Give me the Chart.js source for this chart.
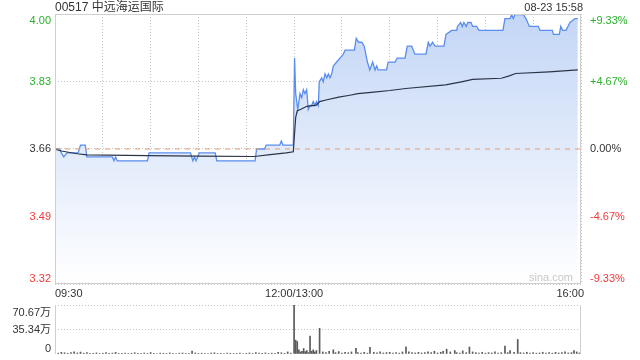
<!DOCTYPE html>
<html>
<head>
<meta charset="utf-8">
<script src="https://cdn.jsdelivr.net/npm/chart.js@4.4.0/dist/chart.umd.min.js"></script>
<style>
html, body { margin: 0; padding: 0; background: #fff; }
#wrap { position: relative; width: 640px; height: 360px; }
#priceBox { position: absolute; left: 0; top: 0; width: 640px; height: 300px; }
#volBox { position: absolute; left: 0; top: 300px; width: 640px; height: 60px; }
</style>
</head>
<body>
<div id="wrap">
    <div id="priceBox"><canvas id="priceChart"></canvas></div>
    <div id="volBox"><canvas id="volChart"></canvas></div>
</div>
<script>
// Header
const stockTitle = '00517 中远海运国际';
const stampText = '08-23 15:58';

// Price (minutes since 09:30, lunch break skipped)
const prevClose = 3.66;
const priceTimes = [
    0, 3, 4, 5.5, 7.5, 14.5, 16, 19, 20, 36, 37, 38, 39, 58, 59, 85, 86.5, 87.5, 88.5, 89.5,
    90.5, 100.5, 101.5, 125.5, 126.5, 131.5, 132.5, 141, 142, 143, 149.5,
    150.3, 151, 152.3, 153.7, 154.8, 155.8, 156.8, 157.9, 158.9, 160, 161, 162, 163, 164, 165.2,
    165.8, 167.3, 168.3, 169.4, 170.5, 171.5, 172.5, 173.6, 174.6, 176.7, 178.8, 180.9, 182, 187.8,
    189, 190.5, 192.5, 194, 195, 196, 197.5, 199.3, 200.8, 201.8, 202.8, 208, 209, 213.3, 214.7,
    219.6, 221, 223.8, 225.8, 232.7, 234.2, 235.3, 236.9, 238.4, 244, 245.3, 248.9, 252, 252.5,
    254.5, 255.5, 256.5, 258, 259, 261, 262, 264.5, 266, 281, 282.3, 285.5, 286.5, 287.5, 288.6,
    293.8, 295.5, 297.6, 303.2, 304.3, 312, 312.7, 316.4, 317.3, 318.5, 320.6, 323.1, 326.2, 328
];
const priceValues = [
    3.66, 3.66, 3.65, 3.64, 3.65, 3.65, 3.67, 3.67, 3.64, 3.64, 3.63, 3.64, 3.63, 3.63, 3.65, 3.65, 3.63, 3.64, 3.63, 3.64,
    3.65, 3.65, 3.63, 3.63, 3.66, 3.66, 3.67, 3.67, 3.68, 3.67, 3.67,
    3.89, 3.80, 3.76, 3.80, 3.79, 3.81, 3.80, 3.81, 3.76, 3.77, 3.77, 3.78, 3.77, 3.78, 3.77,
    3.83, 3.84, 3.83, 3.85, 3.84, 3.85, 3.84, 3.85, 3.87, 3.88, 3.89, 3.90, 3.91, 3.91,
    3.94, 3.93, 3.93, 3.92, 3.90, 3.88, 3.86, 3.88, 3.86, 3.87, 3.86, 3.86, 3.88, 3.88, 3.89,
    3.89, 3.92, 3.92, 3.90, 3.90, 3.93, 3.92, 3.93, 3.92, 3.92, 3.95, 3.96, 3.96, 3.97,
    3.98, 3.97, 3.98, 3.97, 3.98, 3.98, 3.97, 3.97, 3.96, 3.96, 3.99, 3.99, 4.00, 3.99, 4.00,
    4.00, 3.99, 3.97, 3.97, 3.96, 3.96, 3.95, 3.95, 3.97, 3.96, 3.96, 3.98, 3.99, 3.99
];

// Average price
const avgTimes = [0, 4, 14, 20, 58, 90, 125, 135, 145, 149.5, 150.3, 151, 152, 154, 158, 164, 166, 170,
    178, 185, 190, 200, 210, 220, 245, 255, 262, 280, 285, 289, 310, 328];
const avgValues = [3.660, 3.655, 3.648, 3.645, 3.643, 3.642, 3.641, 3.646, 3.650, 3.653, 3.700, 3.740, 3.757, 3.760,
    3.768, 3.771, 3.780, 3.784, 3.791, 3.796, 3.800, 3.804, 3.808, 3.813, 3.822, 3.830, 3.836, 3.839, 3.845, 3.851,
    3.855, 3.860];

// Volume (万股)
const volTimes = [
    0, 2, 4, 6, 8, 10, 12, 14, 16, 18, 20, 22, 24, 26, 28, 30, 32, 34, 36, 38, 40, 42, 44, 46, 48,
    50, 52, 54, 56, 58, 60, 62, 64, 66, 68, 70, 72, 74, 76, 78, 80, 82, 84, 86, 88, 90, 92, 94, 96, 98,
    100, 102, 104, 106, 108, 110, 112, 114, 116, 118, 120, 122, 124, 126, 128, 130, 132, 134, 136, 138,
    140, 142, 144, 146, 148,
    150, 151, 152, 153, 154, 155, 156, 157, 158, 159, 160, 161, 162, 163, 164, 166, 168, 170, 172, 174.6,
    176, 178, 180, 182, 184, 186, 188.8, 190, 192, 194, 196, 197.6, 200, 202, 204, 206, 208, 210, 212,
    214, 216, 218, 220.2, 222, 224, 226, 228, 230, 232, 234, 236, 238, 240, 242, 243.5, 245.7, 248, 250.8,
    252, 254, 255.8, 258, 260, 262, 264, 266, 268, 270, 272, 274, 276, 278, 280, 282.3, 284, 285.5, 288,
    290.3, 292, 294, 296, 298, 300, 302, 304, 306, 308, 310, 312, 314, 316, 318, 320, 322, 324, 325.6,
    327.3, 329
];
const volValues = [
    3.5, 1.2, 2.5, 1.8, 1.0, 2.0, 3.0, 1.5, 2.8, 1.2, 2.2, 0.8, 1.0, 1.6, 0.7, 1.1, 2.0, 0.9, 1.3, 2.4, 0.8,
    1.0, 1.5, 0.7, 1.2, 1.8, 0.9, 1.0, 1.4, 0.8, 2.1, 1.0, 0.7, 1.3, 1.1, 0.8, 1.6, 1.0, 0.7, 1.2, 1.5, 0.8,
    1.0, 4.3, 1.5, 0.9, 1.2, 1.0, 0.7, 1.4, 1.8, 0.8, 1.0, 0.7, 1.2, 1.1, 0.8, 1.0, 1.3, 0.7, 1.0, 1.5, 0.8,
    2.0, 1.2, 1.0, 1.6, 0.8, 1.2, 0.9, 2.5, 1.8, 1.0, 3.0, 1.5,
    70.67, 20.0, 18.0, 6.0, 3.0, 4.0, 8.0, 3.5, 5.0, 2.0, 26.0, 4.0, 6.0, 3.0, 5.0, 37.0, 3.0, 2.0, 4.0, 6.0,
    2.0, 3.5, 1.5, 2.5, 1.8, 3.0, 8.0, 2.0, 1.5, 2.5, 1.2, 9.6, 2.5, 1.8, 3.0, 1.5, 2.0, 2.5, 1.5,
    2.0, 1.2, 3.0, 10.5, 3.0, 2.0, 1.5, 2.5, 1.5, 2.0, 3.0, 2.0, 4.0, 1.5, 2.5, 4.0, 7.0, 3.0, 5.0,
    2.0, 1.5, 4.5, 2.0, 10.0, 3.0, 2.0, 1.5, 2.5, 1.2, 2.0, 1.5, 3.0, 1.5, 2.0, 11.5, 2.0, 5.0, 2.5,
    21.0, 2.0, 1.5, 2.5, 1.5, 2.0, 1.2, 1.5, 2.5, 1.5, 2.0, 1.2, 2.5, 1.5, 2.0, 3.0, 1.5, 2.0, 5.0,
    3.0, 1.5
];

// Axis labels
const gridMinutes = [0, 30, 60, 90, 120, 150, 180, 210, 240, 270, 300, 330];
const timeTickValues = [0, 150, 330];
const timeTickLabels = ['09:30', '12:00/13:00', '16:00'];
const priceTickLabels = ['3.32', '3.49', '3.66', '3.83', '4.00'];
const pctTickLabels = ['-9.33%', '-4.67%', '0.00%', '+4.67%', '+9.33%'];
const volTickValues = [0, 35.335, 70.67];
const volTickLabels = ['0', '35.34万', '70.67万'];

const limitPct = 0.0933;
const priceMin = prevClose * (1 - limitPct);
const priceMax = prevClose * (1 + limitPct);
const priceTickValues = [priceMin, (priceMin + prevClose) / 2, prevClose, (priceMax + prevClose) / 2, priceMax];

const FONT = 'Arial, "Liberation Sans", "Noto Sans CJK SC", sans-serif';
const GREEN = '#2ab02a';
const RED = '#f23a3a';
const TEXT = '#333';
const GRID = '#c4c4c4';
const BORDER = '#cfcfcf';

function tickColor(i) {
    if (i < 2) return RED;
    if (i > 2) return GREEN;
    return TEXT;
}

function pts(xs, ys) {
    return xs.map((x, i) => ({ x: x, y: ys[i] }));
}

// Frame + labels for the price panel
const priceDecor = {
    id: 'priceDecor',
    afterDraw(chart) {
        const { ctx, chartArea: a, scales } = chart;
        ctx.save();
        ctx.strokeStyle = BORDER;
        ctx.lineWidth = 1;
        ctx.strokeRect(Math.round(a.left) + 0.5, Math.round(a.top) + 0.5,
            Math.round(a.right - a.left) - 1, Math.round(a.bottom - a.top) - 1);

        ctx.font = '11px ' + FONT;
        priceTickValues.forEach((v, i) => {
            const py = scales.y.getPixelForValue(v);
            ctx.textBaseline = i === 0 ? 'bottom' : (i === priceTickValues.length - 1 ? 'top' : 'middle');
            const off = i === 0 ? 0 : (i === priceTickValues.length - 1 ? 1 : 0);
            ctx.fillStyle = tickColor(i);
            ctx.textAlign = 'right';
            ctx.fillText(priceTickLabels[i], a.left - 4, py + off);
            ctx.textAlign = 'left';
            ctx.fillText(pctTickLabels[i], a.right + 9, py + off);
        });

        ctx.fillStyle = TEXT;
        ctx.textBaseline = 'middle';
        timeTickValues.forEach((v, i) => {
            const px = scales.x.getPixelForValue(v);
            ctx.textAlign = i === 0 ? 'left' : (i === timeTickValues.length - 1 ? 'right' : 'center');
            ctx.fillText(timeTickLabels[i], px + (i === timeTickValues.length - 1 ? 3 : 0), a.bottom + 10);
        });

        ctx.font = '12px ' + FONT;
        ctx.textAlign = 'left';
        ctx.fillText(stockTitle, a.left, 8);
        ctx.font = '11px ' + FONT;
        ctx.textAlign = 'right';
        ctx.fillText(stampText, a.right + 2, 8);

        ctx.fillStyle = '#c8c8c8';
        ctx.textBaseline = 'bottom';
        ctx.fillText('sina.com', a.right - 8, a.bottom - 1);
        ctx.restore();
    }
};

new Chart(document.getElementById('priceChart'), {
    type: 'line',
    data: {
        datasets: [
            {
                label: 'prev',
                data: pts([0, 330], [prevClose, prevClose]),
                borderColor: '#ec9a6c',
                borderWidth: 1,
                borderDash: [5, 5],
                pointRadius: 0,
                order: 0
            },
            {
                label: 'avg',
                data: pts(avgTimes, avgValues),
                borderColor: '#2b3447',
                borderWidth: 1.2,
                pointRadius: 0,
                order: 1
            },
            {
                label: 'price',
                data: pts(priceTimes, priceValues),
                borderColor: '#5b8def',
                borderWidth: 1.3,
                pointRadius: 0,
                fill: 'start',
                backgroundColor: (c) => {
                    const a = c.chart.chartArea;
                    if (!a) return 'rgba(200,215,245,0.5)';
                    const g = c.chart.ctx.createLinearGradient(0, a.top, 0, a.bottom);
                    g.addColorStop(0, '#c3d6f6');
                    g.addColorStop(1, '#ffffff');
                    return g;
                },
                order: 2
            }
        ]
    },
    options: {
        responsive: true,
        maintainAspectRatio: false,
        animation: false,
        events: [],
        layout: { padding: { top: 14, left: 0, right: 0, bottom: 0 } },
        elements: { line: { tension: 0 } },
        plugins: { legend: { display: false }, tooltip: { enabled: false } },
        scales: {
            x: {
                type: 'linear',
                min: 0,
                max: 330,
                afterBuildTicks: s => { s.ticks = gridMinutes.map(v => ({ value: v })); },
                afterFit: s => { s.height = 16; },
                ticks: { display: false },
                grid: { color: GRID, drawTicks: false },
                border: { display: false, dash: [1, 2] }
            },
            y: {
                position: 'left',
                min: priceMin,
                max: priceMax,
                afterBuildTicks: s => { s.ticks = priceTickValues.map(v => ({ value: v })); },
                afterFit: s => { s.width = 55; },
                ticks: { display: false },
                grid: { color: GRID, drawTicks: false },
                border: { display: false, dash: [1, 2] }
            },
            y2: {
                position: 'right',
                min: priceMin,
                max: priceMax,
                afterFit: s => { s.width = 59; },
                ticks: { display: false },
                grid: { display: false, drawTicks: false },
                border: { display: false }
            }
        }
    },
    plugins: [priceDecor]
});

// Volume panel
const volDecor = {
    id: 'volDecor',
    afterDraw(chart) {
        const { ctx, chartArea: a, scales } = chart;
        ctx.save();
        ctx.strokeStyle = BORDER;
        ctx.lineWidth = 1;
        ctx.beginPath();
        ctx.moveTo(Math.round(a.left) + 0.5, a.top);
        ctx.lineTo(Math.round(a.left) + 0.5, a.bottom);
        ctx.moveTo(Math.round(a.right) - 0.5, a.top);
        ctx.lineTo(Math.round(a.right) - 0.5, a.bottom);
        ctx.stroke();

        ctx.font = '11px ' + FONT;
        ctx.fillStyle = TEXT;
        ctx.textAlign = 'right';
        volTickValues.forEach((v, i) => {
            const py = scales.y.getPixelForValue(v);
            let yy = py;
            if (i === 0) yy = py - 5;
            if (i === volTickValues.length - 1) yy = py + 8;
            ctx.textBaseline = 'middle';
            ctx.fillText(volTickLabels[i], a.left - 4, yy);
        });
        ctx.restore();
    }
};

new Chart(document.getElementById('volChart'), {
    type: 'bar',
    data: {
        datasets: [{
            data: pts(volTimes, volValues),
            backgroundColor: '#5a5a5a',
            barThickness: 1
        }]
    },
    options: {
        responsive: true,
        maintainAspectRatio: false,
        animation: false,
        events: [],
        layout: { padding: { top: 5, left: 0, right: 59, bottom: 6 } },
        plugins: { legend: { display: false }, tooltip: { enabled: false } },
        scales: {
            x: {
                type: 'linear',
                min: 0,
                max: 330,
                offset: false,
                display: false
            },
            y: {
                min: 0,
                max: 70.67,
                afterBuildTicks: s => { s.ticks = volTickValues.map(v => ({ value: v })); },
                afterFit: s => { s.width = 55; },
                ticks: { display: false },
                grid: {
                    color: c => (c.tick && c.tick.value === 0 ? 'rgba(0,0,0,0)' : GRID),
                    drawTicks: false
                },
                border: { display: false, dash: [1, 2] }
            }
        }
    },
    plugins: [volDecor]
});
</script>
</body>
</html>
